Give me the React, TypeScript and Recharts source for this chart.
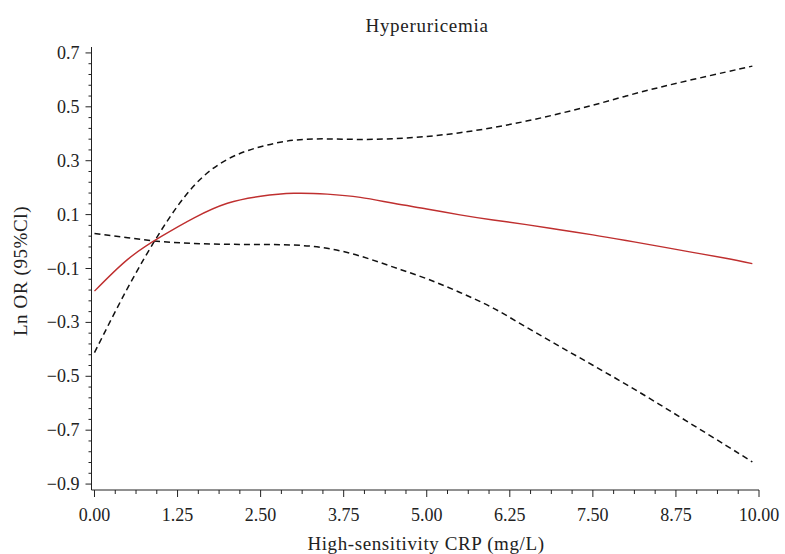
import React from 'react';
import { LineChart, Line, XAxis, YAxis } from 'recharts';

// ---- Data ----
const X_VALUES = [0, 0.5, 1.0, 1.5, 2.0, 2.5, 3.0, 3.5, 4.0, 4.5, 5.0, 5.5, 6.0, 6.5, 7.0, 7.5, 8.0, 8.5, 9.0, 9.5, 9.9];
const FIT = [-0.184, -0.066, 0.018, 0.088, 0.142, 0.168, 0.179, 0.176, 0.164, 0.142, 0.121, 0.099, 0.08, 0.063, 0.044, 0.025, 0.004, -0.018, -0.04, -0.062, -0.082];
const UPPER = [-0.412, -0.172, 0.04, 0.208, 0.305, 0.352, 0.376, 0.381, 0.379, 0.382, 0.39, 0.404, 0.423, 0.447, 0.475, 0.506, 0.54, 0.572, 0.601, 0.629, 0.651];
const LOWER = [0.03, 0.014, 0.0, -0.007, -0.01, -0.011, -0.013, -0.025, -0.054, -0.095, -0.138, -0.189, -0.247, -0.318, -0.389, -0.459, -0.53, -0.604, -0.68, -0.756, -0.818];

const X_MAJOR_TICKS = [0, 1.25, 2.5, 3.75, 5, 6.25, 7.5, 8.75, 10];
const X_TICK_LABELS = ['0.00', '1.25', '2.50', '3.75', '5.00', '6.25', '7.50', '8.75', '10.00'];
const Y_MAJOR_TICKS = [-0.9, -0.7, -0.5, -0.3, -0.1, 0.1, 0.3, 0.5, 0.7];
const Y_TICK_LABELS = ['\u22120.9', '\u22120.7', '\u22120.5', '\u22120.3', '\u22120.1', '0.1', '0.3', '0.5', '0.7'];

const TITLE = 'Hyperuricemia';
const X_LABEL = 'High-sensitivity CRP (mg/L)';
const Y_LABEL = 'Ln OR (95%Cl)';

const data = X_VALUES.map((x, i) => ({ x, fit: FIT[i], upper: UPPER[i], lower: LOWER[i] }));

function subdivide(majors: number[], n: number): number[] {
  const out: number[] = [];
  for (let i = 0; i < majors.length - 1; i++) {
    const a = majors[i];
    const b = majors[i + 1];
    for (let k = 0; k < n; k++) out.push(+(a + ((b - a) * k) / n).toFixed(6));
  }
  out.push(majors[majors.length - 1]);
  return out;
}

const xTicks = subdivide(X_MAJOR_TICKS, 4);
const yTicks = subdivide(Y_MAJOR_TICKS, 5);

const FONT = 'Liberation Serif';
const AXIS_COLOR = '#222';

function majorIndex(v: number, majors: number[]): number {
  return majors.findIndex((m) => Math.abs(m - v) < 1e-6);
}

const XTick = (props: any) => {
  const { x, y, payload } = props;
  const idx = majorIndex(payload.value, X_MAJOR_TICKS);
  const major = idx >= 0;
  return (
    <g>
      <line x1={x} x2={x} y1={y} y2={y + (major ? 7 : 4)} stroke={AXIS_COLOR} strokeWidth={1} />
      {major && (
        <text x={x} y={y + 31} textAnchor="middle" fontSize={18} fontFamily={FONT} fill="#222">
          {X_TICK_LABELS[idx]}
        </text>
      )}
    </g>
  );
};

const YTick = (props: any) => {
  const { x, y, payload } = props;
  const idx = majorIndex(payload.value, Y_MAJOR_TICKS);
  const major = idx >= 0;
  return (
    <g>
      <line x1={x - (major ? 6 : 3)} x2={x} y1={y} y2={y} stroke={AXIS_COLOR} strokeWidth={1} />
      {major && (
        <text x={x - 12} y={y + 6} textAnchor="end" fontSize={18} fontFamily={FONT} fill="#222">
          {Y_TICK_LABELS[idx]}
        </text>
      )}
    </g>
  );
};

export default function App() {
  return (
    <div style={{ position: 'absolute', left: 0, top: 0, width: 785, height: 554, background: '#fff' }}>
      <LineChart
        width={785}
        height={554}
        data={data}
        margin={{ top: 47, right: 26, bottom: 34, left: 11.5 }}
      >
        <XAxis
          type="number"
          dataKey="x"
          domain={[-0.045, 10]}
          allowDataOverflow
          ticks={xTicks}
          interval={0}
          tickSize={0}
          tickMargin={0}
          tickLine={false}
          tick={XTick}
          axisLine={{ stroke: AXIS_COLOR, strokeWidth: 1 }}
          height={30}
        />
        <YAxis
          type="number"
          domain={[-0.922, 0.722]}
          allowDataOverflow
          ticks={yTicks}
          interval={0}
          tickSize={0}
          tickMargin={0}
          tickLine={false}
          tick={YTick}
          axisLine={{ stroke: AXIS_COLOR, strokeWidth: 1 }}
          width={80}
        />
        <Line type="natural" dataKey="upper" stroke="#111" strokeWidth={1.5} strokeDasharray="6 4" dot={false} isAnimationActive={false} />
        <Line type="natural" dataKey="lower" stroke="#111" strokeWidth={1.5} strokeDasharray="6 4" dot={false} isAnimationActive={false} />
        <Line type="natural" dataKey="fit" stroke="#bf2f2f" strokeWidth={1.4} dot={false} isAnimationActive={false} />
      </LineChart>
      <svg width={785} height={554} style={{ position: 'absolute', left: 0, top: 0, pointerEvents: 'none' }}>
        <text x={427} y={32} textAnchor="middle" fontSize={19} letterSpacing={0.7} fontFamily={FONT} fill="#222">
          {TITLE}
        </text>
        <text x={426} y={550} textAnchor="middle" fontSize={19} letterSpacing={0.6} fontFamily={FONT} fill="#222">
          {X_LABEL}
        </text>
        <text
          x={27}
          y={271}
          textAnchor="middle"
          fontSize={19}
          letterSpacing={0.6}
          fontFamily={FONT}
          fill="#222"
          transform="rotate(-90, 27, 271)"
        >
          {Y_LABEL}
        </text>
      </svg>
    </div>
  );
}
